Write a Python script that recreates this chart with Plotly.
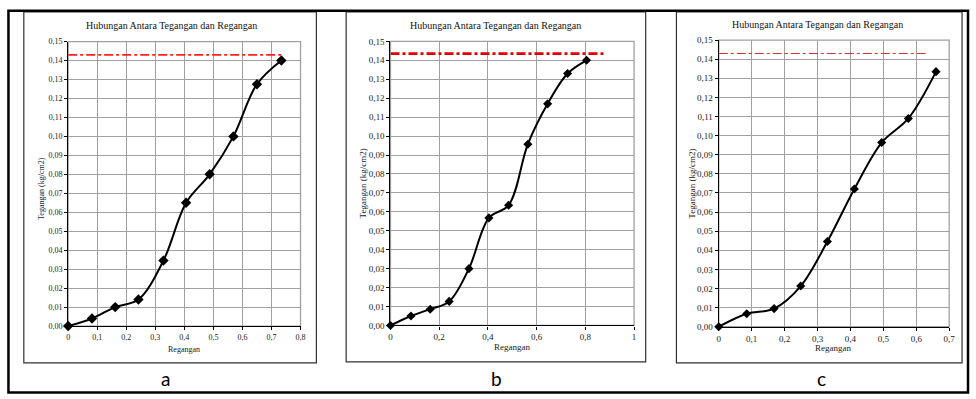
import plotly.graph_objects as go

# ---------------- data ----------------
title_text = "Hubungan Antara Tegangan dan Regangan"
x_title = "Regangan"
y_title = "Tegangan (kg/cm2)"
panel_labels = ["a", "b", "c"]

strain_a = [0, 0.082, 0.162, 0.242, 0.328, 0.406, 0.487, 0.569, 0.650, 0.734]
stress_a = [0, 0.004, 0.010, 0.014, 0.0345, 0.065, 0.080, 0.100, 0.1275, 0.140]

strain_b = [0, 0.084, 0.163, 0.241, 0.322, 0.404, 0.485, 0.564, 0.645, 0.727, 0.805]
stress_b = [0, 0.005, 0.0086, 0.0127, 0.030, 0.0568, 0.0635, 0.0957, 0.117, 0.133, 0.140]

strain_c = [0, 0.085, 0.168, 0.249, 0.330, 0.412, 0.495, 0.576, 0.660]
stress_c = [0, 0.0068, 0.0095, 0.0213, 0.0446, 0.0721, 0.0964, 0.109, 0.1335]

limit_stress = [0.143, 0.1435, 0.143]
limit_end_strain = [0.735, 0.88, 0.63]

x_max = [0.8, 1.0, 0.7]
x_dtick = [0.1, 0.2, 0.1]
y_max = 0.15
y_dtick = 0.01

# ---------------- layout geometry (paper fractions) ----------------
W, H = 976, 399
def fx(px):
    return px / W
def fy(py):
    return 1 - py / H

plot_boxes = [  # left, right, top, bottom in pixels
    (66.7, 301.0, 37.5, 329.3),
    (391.7, 637.3, 37.3, 328.7),
    (722.7, 955.0, 36.0, 330.0),
]
chart_boxes = [
    (22, 317, 7, 367),
    (347, 649, 7, 366),
    (680, 968, 7, 367),
]
title_pos = [(171, 21), (498, 21), (822, 20)]
xtitle_pos = [(183, 353), (514, 351), (838, 352)]
ytitle_pos = [(40, 188), (364, 183), (696, 183)]
label_pos = [(165, 383), (499, 383), (826, 383)]
limit_styles = [
    dict(color="#ff2020", width=1.6, dash="dashdot"),
    dict(color="#e00000", width=2.8, dash="dashdot"),
    dict(color="#d03030", width=1.0, dash="dashdot"),
]
marker_sizes = [8, 7, 7]

serif = "Liberation Serif, Times New Roman, serif"
fig = go.Figure()

series = [(strain_a, stress_a), (strain_b, stress_b), (strain_c, stress_c)]
shapes = []
annotations = []

for i in range(3):
    xa = "x" if i == 0 else f"x{i+1}"
    ya = "y" if i == 0 else f"y{i+1}"
    xs, ys = series[i]
    # limit line
    fig.add_trace(go.Scatter(
        x=[0, limit_end_strain[i]], y=[limit_stress[i], limit_stress[i]],
        mode="lines", line=limit_styles[i], xaxis=xa, yaxis=ya,
        showlegend=False, hoverinfo="skip"))
    # data
    fig.add_trace(go.Scatter(
        x=xs, y=ys, mode="lines+markers",
        line=dict(color="black", width=2, shape="spline", smoothing=1.0),
        marker=dict(symbol="diamond", size=marker_sizes[i], color="black"),
        xaxis=xa, yaxis=ya, showlegend=False, cliponaxis=False))

    l, r, t, b = plot_boxes[i]
    xkey = "xaxis" if i == 0 else f"xaxis{i+1}"
    ykey = "yaxis" if i == 0 else f"yaxis{i+1}"
    fsize = 8 if i == 0 else 9
    fig.update_layout(**{
        xkey: dict(domain=[fx(l), fx(r)], range=[0, x_max[i]], dtick=x_dtick[i], tick0=0,
                   anchor=ya, showgrid=True, gridcolor="#a0a0a0", gridwidth=1.3,
                   showline=True, linecolor="black", linewidth=1.3,
                   ticks="outside", ticklen=3, tickcolor="black",
                   zeroline=False, tickfont=dict(family=serif, size=fsize, color="#222"),
                   fixedrange=True),
        ykey: dict(domain=[fy(b), fy(t)], range=[0, y_max], dtick=y_dtick, tick0=0,
                   anchor=xa, showgrid=True, gridcolor="#a0a0a0", gridwidth=1.3,
                   showline=True, linecolor="black", linewidth=1.3,
                   ticks="outside", ticklen=3, tickcolor="black", tickformat=".2f",
                   zeroline=False, tickfont=dict(family=serif, size=fsize, color="#222"),
                   fixedrange=True),
    })
    # plot-area border (grey)
    shapes.append(dict(type="rect", xref="paper", yref="paper",
                       x0=fx(l), x1=fx(r), y0=fy(b), y1=fy(t),
                       line=dict(color="#a0a0a0", width=1.3), layer="below"))
    # chart box
    cl, cr, ct, cb = chart_boxes[i]
    shapes.append(dict(type="rect", xref="paper", yref="paper",
                       x0=fx(cl), x1=fx(cr), y0=fy(cb), y1=fy(ct),
                       line=dict(color="#303030", width=1.2)))
    # texts
    tx, ty = title_pos[i]
    annotations.append(dict(text=title_text, x=fx(tx), y=fy(ty), xref="paper", yref="paper",
                            showarrow=False, xanchor="center", yanchor="middle",
                            font=dict(family=serif, size=10, color="#111")))
    ax_, ay_ = xtitle_pos[i]
    annotations.append(dict(text=x_title, x=fx(ax_), y=fy(ay_), xref="paper", yref="paper",
                            showarrow=False, xanchor="center", yanchor="middle",
                            font=dict(family=serif, size=fsize, color="#222")))
    yx, yy = ytitle_pos[i]
    annotations.append(dict(text=y_title, x=fx(yx), y=fy(yy), xref="paper", yref="paper",
                            showarrow=False, xanchor="center", yanchor="middle", textangle=-90,
                            font=dict(family=serif, size=fsize, color="#222")))
    lx, ly = label_pos[i]
    annotations.append(dict(text=panel_labels[i], x=fx(lx), y=fy(ly), xref="paper", yref="paper",
                            showarrow=False, xanchor="center", yanchor="middle",
                            font=dict(family="Lato, Open Sans, sans-serif", size=19, color="black")))

# outer frame
shapes.append(dict(type="rect", xref="paper", yref="paper",
                   x0=fx(6.5), x1=fx(974), y0=fy(397.5), y1=fy(6),
                   line=dict(color="black", width=2.5)))

fig.update_layout(
    width=W, height=H, margin=dict(l=0, r=0, t=0, b=0),
    paper_bgcolor="white", plot_bgcolor="white",
    separators=",.",
    shapes=shapes, annotations=annotations,
)

fig.write_html("out.html", config={"displayModeBar": False})
